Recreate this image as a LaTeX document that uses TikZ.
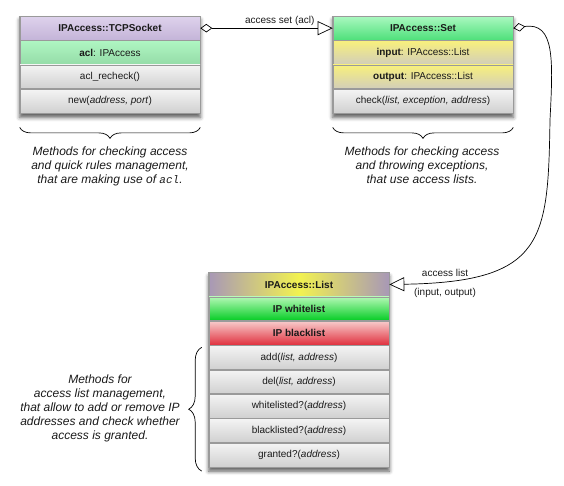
\documentclass[tikz,border=0pt]{standalone}
\usepackage{fontspec}
\setmainfont{Liberation Sans}
\setmonofont{Liberation Mono}
\usetikzlibrary{positioning,arrows.meta,decorations.pathreplacing,shadows.blur,fit,backgrounds}
\definecolor{rowborder}{HTML}{9A9A9A}
\definecolor{txt}{HTML}{1A1A1A}
\definecolor{gtop}{HTML}{F4F4F4}
\definecolor{gbot}{HTML}{D0D0D0}
\definecolor{ptop}{HTML}{DED2EC}
\definecolor{pbot}{HTML}{C4B4D8}
\definecolor{lgtop}{HTML}{AEF6C2}
\definecolor{lgbot}{HTML}{96DCA8}
\definecolor{sgtop}{HTML}{AAF8C0}
\definecolor{sgbot}{HTML}{4EE07A}
\definecolor{ytop}{HTML}{F8F07C}
\definecolor{ybot}{HTML}{D2CEBA}
\definecolor{ledge}{HTML}{A898B6}
\definecolor{lmid}{HTML}{F2F250}
\definecolor{wtop}{HTML}{B2F8B4}
\definecolor{wbot}{HTML}{04CC24}
\definecolor{btop}{HTML}{F8CACA}
\definecolor{bbot}{HTML}{E0303E}
\tikzset{
  x=1pt, y=1pt,
  row/.style={draw=rowborder, line width=0.6pt, minimum width=180pt, minimum height=23.75pt,
    inner sep=0pt, font=\fontsize{10}{12}\selectfont, text=txt},
  grayrow/.style={row, top color=gtop, bottom color=gbot},
  purplerow/.style={row, top color=ptop, bottom color=pbot, font=\fontsize{10}{12}\selectfont\bfseries},
  lgreenrow/.style={row, top color=lgtop, bottom color=lgbot},
  sgreenrow/.style={row, top color=sgtop, bottom color=sgbot, font=\fontsize{10}{12}\selectfont\bfseries},
  yellowrow/.style={row, top color=ytop, bottom color=ybot},
  listtitle/.style={row, left color=ledge, right color=ledge, middle color=lmid, font=\fontsize{10}{12}\selectfont\bfseries},
  whiterow/.style={row, top color=wtop, bottom color=wbot, font=\fontsize{10}{12}\selectfont\bfseries},
  blackrow/.style={row, top color=btop, bottom color=bbot, font=\fontsize{10}{12}\selectfont\bfseries},
  shadowbox/.style={inner sep=0pt, fill=white, draw=rowborder, line width=0.6pt,
    blur shadow={shadow xshift=0pt, shadow yshift=-4pt, shadow blur radius=4pt, shadow opacity=65}},
  comment/.style={align=center, font=\fontsize{12}{14}\selectfont\itshape, text=txt, inner sep=0pt},
  lbl/.style={font=\fontsize{10}{12}\selectfont, text=txt, inner sep=1pt},
  bracestyle/.style={decorate, decoration={brace, amplitude=#1}, line width=0.7pt, draw=black},
  conn/.style={draw=black, line width=0.7pt,
    arrows={Diamond[open,length=12pt,width=8.5pt]-Triangle[open,length=15pt,width=14pt]}}
}
\begin{document}
\begin{tikzpicture}
\useasboundingbox (0,0) rectangle (564,-486);
% TCPSocket
\node[purplerow, anchor=north] (t1) at (110,-16) {IPAccess::TCPSocket};
\node[lgreenrow, below=0pt of t1] (t2) {\textbf{acl}: IPAccess};
\node[grayrow, below=0pt of t2] (t3) {acl\_recheck()};
\node[grayrow, below=0pt of t3] (t4) {new(\textit{address, port})};
% Set
\node[sgreenrow, anchor=north] (s1) at (423,-16) {IPAccess::Set};
\node[yellowrow, below=0pt of s1] (s2) {\textbf{input}: IPAccess::List};
\node[yellowrow, below=0pt of s2] (s3) {\textbf{output}: IPAccess::List};
\node[grayrow, below=0pt of s3] (s4) {check(\textit{list, exception, address})};
% List
\node[listtitle, anchor=north] (l1) at (299,-272.3) {IPAccess::List};
\node[whiterow, below=0pt of l1] (l2) {IP whitelist};
\node[blackrow, below=0pt of l2] (l3) {IP blacklist};
\node[grayrow, below=0pt of l3] (l4) {add(\textit{list, address})};
\node[grayrow, below=0pt of l4] (l5) {del(\textit{list, address})};
\node[grayrow, below=0pt of l5] (l6) {whitelisted?(\textit{address})};
\node[grayrow, below=0pt of l6] (l7) {blacklisted?(\textit{address})};
\node[grayrow, below=0pt of l7] (l8) {granted?(\textit{address})};
% shadows
\begin{scope}[on background layer]
  \node[shadowbox, fit=(t1)(t4)] (tbox) {};
  \node[shadowbox, fit=(s1)(s4)] (sbox) {};
  \node[shadowbox, fit=(l1)(l8)] (lbox) {};
\end{scope}
% connectors
\draw[conn] (t1.east) -- (s1.west)
  node[lbl, pos=0.6, above=1pt] (lab1) {access set (acl)};
\draw[conn] (s1.east) .. controls (555,-22) and (553,-60) .. (550,-120)
  .. controls (548,-240) and (545,-282) .. (l1.east);
\node[lbl] (lab2) at (445,-273) {access list};
\node[lbl] (lab3) at (445,-293) {(input, output)};
% braces
\draw[bracestyle=11pt] ([yshift=-14pt]t4.south east) -- ([yshift=-14pt]t4.south west);
\draw[bracestyle=11pt] ([yshift=-14pt]s4.south east) -- ([yshift=-14pt]s4.south west);
\draw[bracestyle=13pt] ([shift={(-7pt,-4pt)}]l8.south west) -- ([shift={(-7pt,-2pt)}]l4.north west);
% comments
\node[comment] (c1) at (110,-166) {Methods for checking access\\and quick rules management,\\that are making use of {\fontsize{11}{14}\selectfont\texttt{acl}}.};
\node[comment] (c2) at (422,-165) {Methods for checking access\\and throwing exceptions,\\that use access lists.};
\node[comment] (c3) at (100,-408) {Methods for\\access list management,\\that allow to add or remove IP\\addresses and check whether\\access is granted.};
\end{tikzpicture}
\end{document}
